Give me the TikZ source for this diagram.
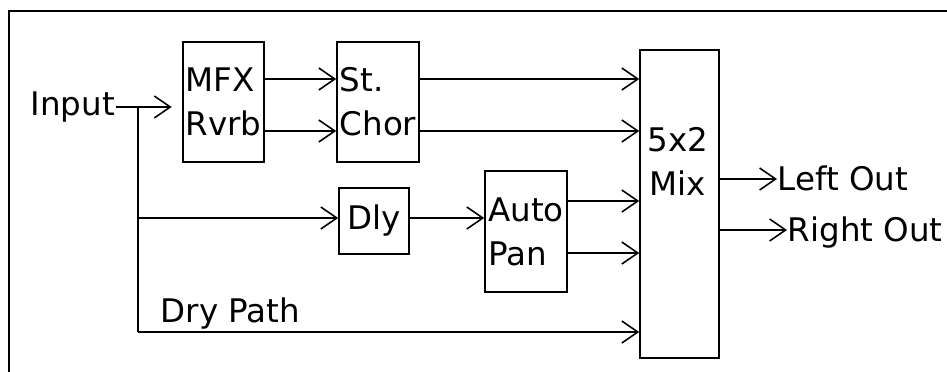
\documentclass[tikz,border=0pt]{standalone}
\usepackage{fontspec}
\setmainfont{DejaVu Sans}
\usepackage{tikz}
\usetikzlibrary{arrows.meta,positioning}

\begin{document}
\begin{tikzpicture}[
  x=0.02cm, y=-0.02cm,
  font=\fontsize{18.5}{25}\selectfont,
  line width=0.9pt,
  >={Straight Barb[length=0.32cm,width=0.44cm]},
  fxbox/.style={draw, align=left, inner sep=0pt},
  lab/.style={inner sep=0pt, anchor=west, text height=13.5pt, text depth=0pt},
  frame/.style={line width=0.6pt}
]
\useasboundingbox (0,0) rectangle (947,372);
\draw[frame] (9,372) -- (9,11) -- (947,11);

% effect blocks
\node[fxbox, minimum width=1.62cm, minimum height=2.4cm] (mfx) at (223.5,102) {MFX\\Rvrb};
\node[fxbox, minimum width=1.64cm, minimum height=2.4cm] (chor) at (378,102) {St.\\Chor};
\node[fxbox, minimum width=1.4cm, minimum height=1.32cm] (dly) at (374,221) {Dly};
\node[fxbox, minimum width=1.64cm, minimum height=2.42cm] (pan) at (526,231.5) {Auto\\Pan};
\node[fxbox, minimum width=1.58cm, minimum height=6.16cm] (mix) at (679.5,204) {};
\node[align=center, inner sep=0pt] (mixlbl) at (678,161) {5x2\\Mix};

% labels
\node[lab] (input) at (30,104) {Input};
\node[lab] (dry) at (160,311) {Dry Path};
\node[lab] (lout) at (777,179) {Left Out};
\node[lab] (rout) at (787,230) {Right Out};

% input split
\coordinate (br) at (138,107);
\coordinate (brm) at (138,218);
\coordinate (brd) at (138,332);
\draw[->, shorten >=6pt] (input.east |- br) -- (mfx.west |- br);
\draw (br) -- (brd);
\draw[->] (brm) -- (dly.west |- brm);
\draw[->] (brd) -- (mix.west |- brd);

% signal paths
\foreach \yy in {79,131} {
  \draw[->] (mfx.east |- 0,\yy) -- (chor.west |- 0,\yy);
  \draw[->] (chor.east |- 0,\yy) -- (mix.west |- 0,\yy);
}
\draw[->] (dly.east |- 0,218) -- (pan.west |- 0,218);
\foreach \yy in {201,253} {
  \draw[->] (pan.east |- 0,\yy) -- (mix.west |- 0,\yy);
}

% outputs
\draw[->] (mix.east |- lout) -- (lout.west);
\draw[->] (mix.east |- rout) -- (rout.west);
\end{tikzpicture}
\end{document}
